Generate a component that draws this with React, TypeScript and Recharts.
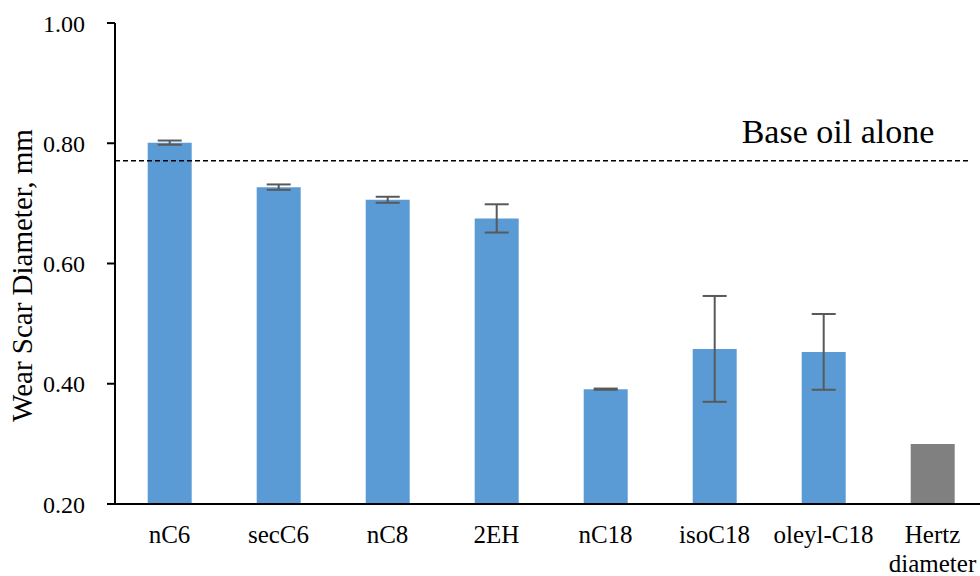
import React from 'react';
import { ComposedChart, Bar, XAxis, YAxis, ErrorBar, Cell, ReferenceLine, Label } from 'recharts';

const categories = ['nC6', 'secC6', 'nC8', '2EH', 'nC18', 'isoC18', 'oleyl-C18', 'Hertz\ndiameter'];
const wearScar = [0.801, 0.727, 0.706, 0.675, 0.391, 0.458, 0.453, 0.3];
const wearErr: (number | null)[] = [0.0035, 0.0045, 0.005, 0.0235, 0.001, 0.088, 0.063, null];
const barColors = ['#5B9BD5', '#5B9BD5', '#5B9BD5', '#5B9BD5', '#5B9BD5', '#5B9BD5', '#5B9BD5', '#808080'];
const yTicks = [0.2, 0.4, 0.6, 0.8, 1.0];
const baseOilAlone = 0.771;

const data = categories.map((c, i) => ({ name: c, value: wearScar[i], err: wearErr[i] }));

const FONT = '"Liberation Serif", "Times New Roman", serif';

const XTick = (props: any) => {
  const { x, y, payload } = props;
  const lines = String(payload.value).split('\n');
  return (
    <text x={x} y={y} textAnchor="middle" style={{ fontFamily: FONT, fontSize: 25 }} fill="#000">
      {lines.map((l, i) => (
        <tspan key={i} x={x} y={y + 39 + i * 29}>{l}</tspan>
      ))}
    </text>
  );
};

const YTick = (props: any) => {
  const { x, y, payload } = props;
  return (
    <text x={x} y={y} dy="0.36em" textAnchor="end" style={{ fontFamily: FONT, fontSize: 24 }} fill="#000">
      {Number(payload.value).toFixed(2)}
    </text>
  );
};

const YTitle = (props: any) => {
  const vb = props.viewBox || { x: 0, y: 0, width: 0, height: 0 };
  const cx = 22;
  const cy = vb.y + vb.height / 2 + 12;
  return (
    <text x={cx} y={cy} transform={`rotate(-90 ${cx} ${cy})`} textAnchor="middle" dominantBaseline="central"
      style={{ fontFamily: FONT, fontSize: 29 }} fill="#000">
      Wear Scar Diameter, mm
    </text>
  );
};

const BaseLabel = (props: any) => {
  const vb = props.viewBox || { x: 0, y: 0, width: 0 };
  return (
    <text x={vb.x + vb.width - 149} y={vb.y - 18} textAnchor="middle" style={{ fontFamily: FONT, fontSize: 34 }} fill="#000">
      Base oil alone
    </text>
  );
};

const DashShape = (p: any) => (
  <line x1={p.x1} y1={p.y1} x2={p.x2 - 19} y2={p.y2} stroke="#000" strokeWidth={1.5} strokeDasharray="5 3" />
);

export default function App() {
  return (
    <div style={{ width: 980, height: 576, overflow: 'hidden', background: '#fff' }}>
      <style>{`body{margin:0;overflow:hidden;}`}</style>
      <ComposedChart width={987} height={576} data={data} margin={{ top: 23, right: 0, bottom: 12, left: 30 }} barCategoryGap="30%">
        <XAxis dataKey="name" height={60} tickLine={false} tickSize={0} tickMargin={0} axisLine={{ stroke: '#000', strokeWidth: 2 }}
          tick={<XTick />} interval={0} />
        <YAxis width={85} domain={[0.2, 1.0]} ticks={yTicks} allowDataOverflow
          tickSize={8} tickMargin={22}
          axisLine={{ stroke: '#000', strokeWidth: 2 }} tickLine={{ stroke: '#000', strokeWidth: 2 }}
          tick={<YTick />}>
          <Label content={<YTitle />} position="left" />
        </YAxis>
        <Bar dataKey="value" isAnimationActive={false}>
          {data.map((d, i) => (
            <Cell key={i} fill={barColors[i]} />
          ))}
          <ErrorBar dataKey="err" width={12} stroke="#595959" strokeWidth={2} direction="y" />
        </Bar>
        <ReferenceLine y={baseOilAlone} shape={<DashShape />} label={<BaseLabel />} ifOverflow="extendDomain" />
      </ComposedChart>
    </div>
  );
}
